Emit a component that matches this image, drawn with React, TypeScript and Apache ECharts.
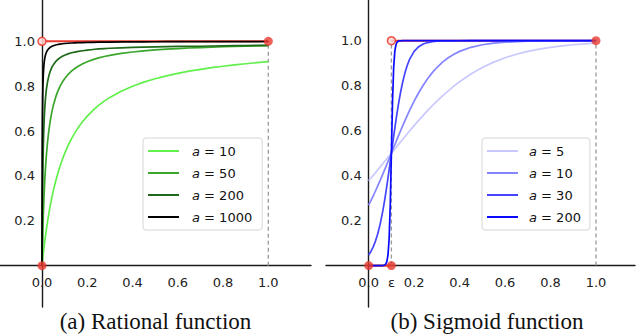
import React, { useEffect, useRef } from "react";
import * as echarts from "echarts";

// ---- Data ----
const ratX = [0, 0.001, 0.002, 0.003, 0.004, 0.006, 0.008, 0.01, 0.0125, 0.015, 0.0175, 0.02, 0.025, 0.03, 0.035, 0.04, 0.045, 0.05, 0.06, 0.07, 0.08, 0.09, 0.1, 0.115, 0.13, 0.145, 0.16, 0.18, 0.2, 0.225, 0.25, 0.275, 0.3, 0.35, 0.4, 0.45, 0.5, 0.55, 0.6, 0.65, 0.7, 0.75, 0.8, 0.85, 0.9, 0.95, 1.0];
const ratA10 = [0, 0.0099, 0.0196, 0.0291, 0.0385, 0.0566, 0.0741, 0.0909, 0.1111, 0.1304, 0.1489, 0.1667, 0.2, 0.2308, 0.2593, 0.2857, 0.3103, 0.3333, 0.375, 0.4118, 0.4444, 0.4737, 0.5, 0.5349, 0.5652, 0.5918, 0.6154, 0.6429, 0.6667, 0.6923, 0.7143, 0.7333, 0.75, 0.7778, 0.8, 0.8182, 0.8333, 0.8462, 0.8571, 0.8667, 0.875, 0.8824, 0.8889, 0.8947, 0.9, 0.9048, 0.9091];
const ratA50 = [0, 0.0476, 0.0909, 0.1304, 0.1667, 0.2308, 0.2857, 0.3333, 0.3846, 0.4286, 0.4667, 0.5, 0.5556, 0.6, 0.6364, 0.6667, 0.6923, 0.7143, 0.75, 0.7778, 0.8, 0.8182, 0.8333, 0.8519, 0.8667, 0.8788, 0.8889, 0.9, 0.9091, 0.9184, 0.9259, 0.9322, 0.9375, 0.9459, 0.9524, 0.9574, 0.9615, 0.9649, 0.9677, 0.9701, 0.9722, 0.974, 0.9756, 0.977, 0.9783, 0.9794, 0.9804];
const ratA200 = [0, 0.165, 0.283, 0.371, 0.44, 0.54, 0.609, 0.66, 0.706, 0.741, 0.768, 0.79, 0.822, 0.845, 0.862, 0.876, 0.887, 0.895, 0.909, 0.919, 0.927, 0.933, 0.938, 0.944, 0.949, 0.952, 0.955, 0.958, 0.961, 0.9635, 0.966, 0.9675, 0.969, 0.971, 0.973, 0.974, 0.975, 0.976, 0.977, 0.9775, 0.978, 0.979, 0.98, 0.9805, 0.981, 0.9815, 0.982];
const ratA1000 = [0, 0.5, 0.6667, 0.75, 0.8, 0.8571, 0.8889, 0.9091, 0.9259, 0.9375, 0.9459, 0.9524, 0.9615, 0.9677, 0.9722, 0.9756, 0.9783, 0.9804, 0.9836, 0.9859, 0.9877, 0.989, 0.9901, 0.9914, 0.9924, 0.9931, 0.9938, 0.9945, 0.995, 0.9956, 0.996, 0.9964, 0.9967, 0.9971, 0.9975, 0.9978, 0.998, 0.9982, 0.9983, 0.9985, 0.9986, 0.9987, 0.9988, 0.9988, 0.9989, 0.9989, 0.999];

const sigX = [0, 0.01, 0.02, 0.03, 0.04, 0.05, 0.06, 0.065, 0.07, 0.075, 0.08, 0.085, 0.09, 0.095, 0.1, 0.105, 0.11, 0.115, 0.12, 0.125, 0.13, 0.135, 0.14, 0.15, 0.16, 0.17, 0.18, 0.2, 0.22, 0.24, 0.26, 0.28, 0.3, 0.325, 0.35, 0.375, 0.4, 0.45, 0.5, 0.55, 0.6, 0.65, 0.7, 0.75, 0.8, 0.85, 0.9, 0.95, 1.0];
const sigA5 = [0.3775, 0.3894, 0.4013, 0.4134, 0.4256, 0.4378, 0.4502, 0.4564, 0.4626, 0.4688, 0.475, 0.4813, 0.4875, 0.4938, 0.5, 0.5062, 0.5125, 0.5187, 0.525, 0.5312, 0.5374, 0.5436, 0.5498, 0.5622, 0.5744, 0.5866, 0.5987, 0.6225, 0.6457, 0.6682, 0.69, 0.7109, 0.7311, 0.7549, 0.7773, 0.7982, 0.8176, 0.852, 0.8808, 0.9047, 0.9241, 0.9399, 0.9526, 0.9627, 0.9707, 0.977, 0.982, 0.9859, 0.989];
const sigA10 = [0.2689, 0.2891, 0.31, 0.3318, 0.3543, 0.3775, 0.4013, 0.4134, 0.4256, 0.4378, 0.4502, 0.4626, 0.475, 0.4875, 0.5, 0.5125, 0.525, 0.5374, 0.5498, 0.5622, 0.5744, 0.5866, 0.5987, 0.6225, 0.6457, 0.6682, 0.69, 0.7311, 0.7685, 0.8022, 0.832, 0.8581, 0.8808, 0.9047, 0.9241, 0.9399, 0.9526, 0.9707, 0.982, 0.989, 0.9933, 0.9959, 0.9975, 0.9985, 0.9991, 0.9994, 0.9997, 0.9998, 0.9999];
const sigA30 = [0.0474, 0.063, 0.0832, 0.1091, 0.1419, 0.1824, 0.2315, 0.2592, 0.2891, 0.3208, 0.3543, 0.3894, 0.4256, 0.4626, 0.5, 0.5374, 0.5744, 0.6106, 0.6457, 0.6792, 0.7109, 0.7408, 0.7685, 0.8176, 0.8581, 0.8909, 0.9168, 0.9526, 0.9734, 0.9852, 0.9918, 0.9955, 0.9975, 0.9988, 0.9994, 0.9997, 0.9999, 1, 1, 1, 1, 1, 1, 1, 1, 1, 1, 1, 1];
const sigA200 = [0, 0, 0, 0, 0, 0, 0.0003, 0.0009, 0.0025, 0.0067, 0.018, 0.0474, 0.1192, 0.2689, 0.5, 0.7311, 0.8808, 0.9526, 0.982, 0.9933, 0.9975, 0.9991, 0.9997, 1, 1, 1, 1, 1, 1, 1, 1, 1, 1, 1, 1, 1, 1, 1, 1, 1, 1, 1, 1, 1, 1, 1, 1, 1, 1];

const ratLabels = ["10", "50", "200", "1000"];
const sigLabels = ["5", "10", "30", "200"];
const ratColors = ["#62f04c", "#3ba62c", "#1f6a1a", "#000000"];
const sigColors = ["#c9c9ff", "#8585ff", "#4545ff", "#0a0aff"];

const xTicksRat = [0, 0.2, 0.4, 0.6, 0.8, 1.0];
const eps = 0.1;
const xTicksSig = [0, eps, 0.2, 0.4, 0.6, 0.8, 1.0];
const yTicks = [0.2, 0.4, 0.6, 0.8, 1.0];

const captions = ["(a) Rational function", "(b) Sigmoid function"];

const RED = "#e8392e";
const SANS = "DejaVu Sans";

function pairs(xs: number[], ys: number[]) {
  return xs.map((x, i) => [x, ys[i]]);
}

// panel frames: grid box + axis ranges
const panels = [
  { left: 0, width: 311, xmin: -0.1856, xmax: 1.1887, ymin: -0.184, ymax: 1.184, ticks: xTicksRat },
  { left: 326, width: 309, xmin: -0.1877, xmax: 1.1717, ymin: -0.184, ymax: 1.181, ticks: xTicksSig },
];
const GRID_H = 307;

export default function App() {
  const ref = useRef<HTMLDivElement>(null);
  useEffect(() => {
    if (!ref.current) return;
    const chart = echarts.init(ref.current, null, { renderer: "svg" });

    const axisLineStyle = { color: "#1a1a1a", width: 1.4 };
    const labelStyle = { color: "#222", fontFamily: SANS, fontSize: 13 };

    const mkX = (gi: number) => {
      const p = panels[gi];
      const off = -(GRID_H * (0 - p.ymin)) / (p.ymax - p.ymin);
      return {
        type: "value",
        gridIndex: gi,
        min: p.xmin,
        max: p.xmax,
        position: "bottom",
        offset: off,
        axisLine: { onZero: false, lineStyle: axisLineStyle },
        axisTick: { show: false },
        splitLine: { show: false },
        axisLabel: {
          ...labelStyle,
          margin: 10,
          customValues: p.ticks,
          formatter: (v: number) => (gi === 1 && Math.abs(v - eps) < 1e-9 ? "ε" : v.toFixed(1)),
        },
      };
    };
    const mkY = (gi: number) => {
      const p = panels[gi];
      const off = -(p.width * (0 - p.xmin)) / (p.xmax - p.xmin);
      return {
        type: "value",
        gridIndex: gi,
        min: p.ymin,
        max: p.ymax,
        position: "left",
        offset: off,
        axisLine: { onZero: false, lineStyle: axisLineStyle },
        axisTick: { show: false },
        splitLine: { show: false },
        axisLabel: {
          ...labelStyle,
          margin: 7,
          customValues: yTicks,
          formatter: (v: number) => v.toFixed(1),
        },
      };
    };

    const curve = (name: string, gi: number, data: number[][], color: string) => ({
      type: "line",
      name,
      xAxisIndex: gi,
      yAxisIndex: gi,
      data,
      color,
      showSymbol: false,
      symbol: "none",
      lineStyle: { color, width: 1.7, join: "round" },
      z: 3,
      silent: true,
    });
    const plain = (gi: number, data: number[][], color: string, width: number, type: any) => ({
      type: "line",
      xAxisIndex: gi,
      yAxisIndex: gi,
      data,
      showSymbol: false,
      symbol: "none",
      lineStyle: { color, width, type },
      z: 2,
      silent: true,
    });
    const dots = (gi: number, data: number[][]) => ({
      type: "scatter",
      xAxisIndex: gi,
      yAxisIndex: gi,
      data,
      symbolSize: 9,
      itemStyle: { color: RED },
      z: 6,
      silent: true,
    });
    const rings = (gi: number, data: number[][]) => ({
      type: "scatter",
      xAxisIndex: gi,
      yAxisIndex: gi,
      data,
      symbolSize: 8,
      itemStyle: { color: "#fbd6d3", borderColor: RED, borderWidth: 1.5, opacity: 0.85 },
      z: 6,
      silent: true,
    });

    const ratSeries = [ratA10, ratA50, ratA200, ratA1000];
    const sigSeries = [sigA5, sigA10, sigA30, sigA200];

    const rich = (pad: number) => ({
      i: { fontStyle: "italic", fontFamily: SANS, fontSize: 13, color: "#111", padding: [0, 0, 0, pad], lineHeight: 16 },
      t: { fontFamily: SANS, fontSize: 13, color: "#111", lineHeight: 16 },
    });
    const mkLegend = (left: number, names: string[], labels: string[], pad: number, padding: number[]) => ({
      left,
      top: 138,
      orient: "vertical",
      data: names,
      icon: "rect",
      itemWidth: 31,
      itemHeight: 2,
      itemGap: 6,
      padding,
      selectedMode: false,
      backgroundColor: "rgba(255,255,255,0.85)",
      borderColor: "#d6d6d6",
      borderWidth: 1,
      borderRadius: 3,
      formatter: (n: string) => `{i|a}{t| = ${labels[names.indexOf(n)]}}`,
      textStyle: { fontFamily: SANS, fontSize: 13, lineHeight: 16, rich: rich(pad) },
    });

    const ratNames = ratLabels.map((l) => "r" + l);
    const sigNames = sigLabels.map((l) => "s" + l);

    const captionText = (i: number, x: number) => ({
      type: "text",
      x,
      y: 321,
      style: {
        text: captions[i],
        fontFamily: "Liberation Serif",
        fontSize: 23,
        fill: "#111",
        textAlign: "center",
        textVerticalAlign: "middle",
      },
    });

    const option: any = {
      animation: false,
      backgroundColor: "#ffffff",
      grid: panels.map((p) => ({
        left: p.left,
        top: 0,
        width: p.width,
        height: GRID_H,
        containLabel: false,
        outerBoundsMode: "none",
      })),
      xAxis: [mkX(0), mkX(1)],
      yAxis: [mkY(0), mkY(1)],
      legend: [
        mkLegend(143, ratNames, ratLabels, 8, [5, 10, 5, 5]),
        mkLegend(482, sigNames, sigLabels, 6, [5, 9, 5, 5]),
      ],
      series: [
        // panel (a)
        plain(0, [[0, 1], [1, 1]], RED, 2, "solid"),
        plain(0, [[1, 0], [1, 1]], "#9a9a9a", 1.3, [4, 3]),
        ...ratSeries.map((ys, k) => curve(ratNames[k], 0, pairs(ratX, ys), ratColors[k])),
        dots(0, [[0, 0], [1, 1]]),
        rings(0, [[0, 1]]),
        // panel (b)
        plain(1, [[0, 0], [eps, 0]], RED, 2, "solid"),
        plain(1, [[eps, 1], [1, 1]], RED, 2, "solid"),
        plain(1, [[eps, 0], [eps, 1]], "#9a9a9a", 1.3, [4, 3]),
        plain(1, [[1, 0], [1, 1]], "#9a9a9a", 1.3, [4, 3]),
        ...sigSeries.map((ys, k) => curve(sigNames[k], 1, pairs(sigX, ys), sigColors[k])),
        dots(1, [[0, 0], [eps, 0], [1, 1]]),
        rings(1, [[eps, 1]]),
      ],
      graphic: [captionText(0, 155.5), captionText(1, 487)],
    };
    chart.setOption(option);
    return () => chart.dispose();
  }, []);
  return (
    <div
      ref={ref}
      style={{ position: "fixed", left: 0, top: 0, width: 640, height: 334, background: "#fff" }}
    />
  );
}
